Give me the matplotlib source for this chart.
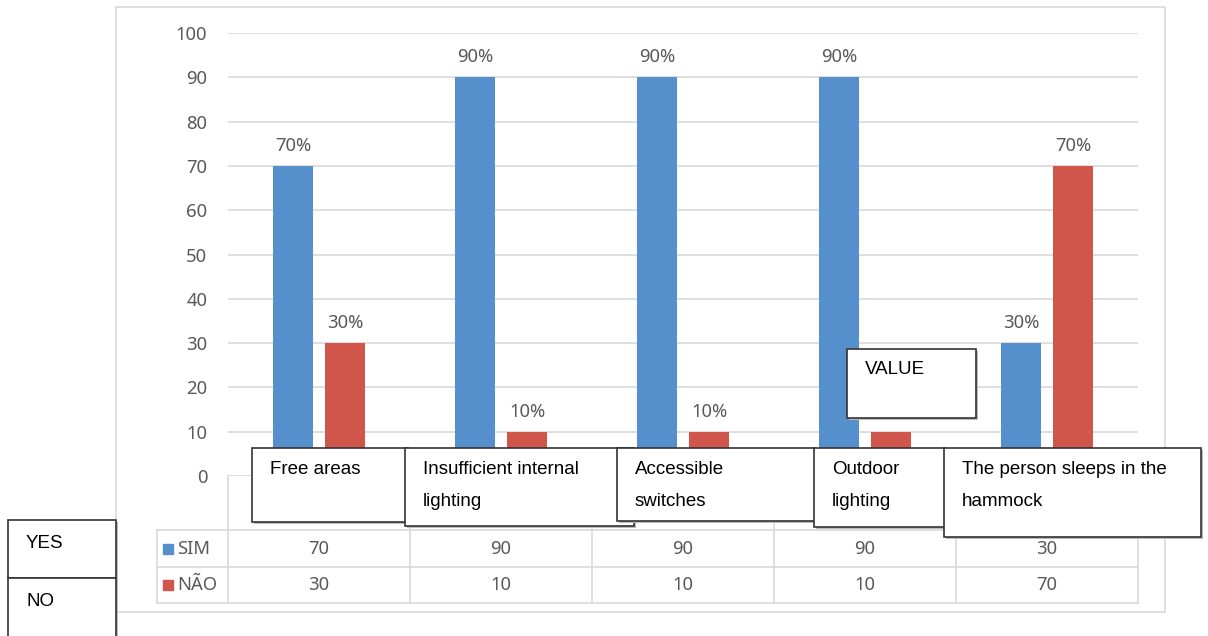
import matplotlib
matplotlib.use("Agg")
import matplotlib.pyplot as plt
from matplotlib.patches import Rectangle
from matplotlib.lines import Line2D
from matplotlib.transforms import blended_transform_factory
import numpy as np

# ---- data ----
box_labels = ["Free areas", "Insufficient internal\nlighting", "Accessible\nswitches",
              "Outdoor\nlighting", "The person sleeps in the\nhammock"]
series_names = ["SIM", "NÃO"]
sim = [70, 90, 90, 90, 30]
nao = [30, 10, 10, 10, 70]
yticks = [0, 10, 20, 30, 40, 50, 60, 70, 80, 90, 100]
side_labels = ["YES", "NO"]
extra_label = "VALUE"

W, H = 1208, 636
BLUE = "#5590CC"
RED = "#D0564B"
GRID = "#D9D9D9"
TXT = "#595959"
F = "Noto Sans"
AR = "Liberation Sans"
FS = 13.3

fig = plt.figure(figsize=(W / 100, H / 100), dpi=100)


def fx(px):
    return px / W


def fy(py):
    return 1 - py / H


# outer chart frame
fig.patches.append(Rectangle((fx(116), fy(612)), fx(1165) - fx(116), fy(7) - fy(612),
                             transform=fig.transFigure, fill=False, edgecolor=GRID, lw=1.2))

ax = fig.add_axes([fx(228), fy(476), fx(1138) - fx(228), fy(33) - fy(476)])
x = np.arange(len(sim))
bw = 0.22
off = 0.143
b1 = ax.bar(x - off, sim, bw, color=BLUE, zorder=3)
b2 = ax.bar(x + off, nao, bw, color=RED, zorder=3)
for bars, vals in ((b1, sim), (b2, nao)):
    for r, v in zip(bars, vals):
        ax.annotate(f"{v}%", (r.get_x() + r.get_width() / 2, v), xytext=(0, 8),
                    textcoords="offset points", ha="center", va="bottom",
                    color=TXT, fontsize=FS, family=F)

ax.set_xlim(-0.5, len(sim) - 0.5)
ax.set_ylim(0, 100)
ax.set_yticks(yticks)
ax.set_yticklabels([str(t) for t in yticks], color=TXT, fontsize=FS, family=F)
ax.tick_params(axis="y", length=0, pad=15)
ax.set_xticks([])
ax.yaxis.grid(True, color=GRID, lw=1.2, zorder=0)
for s in ax.spines.values():
    s.set_visible(False)

# ---- data table ----
bt = blended_transform_factory(ax.transData, fig.transFigure)
row_y = [530, 567, 603]
lx = 157
for yy in row_y:
    fig.lines.append(Line2D([fx(lx), fx(1138)], [fy(yy), fy(yy)], transform=fig.transFigure,
                            color=GRID, lw=1.2))
fig.lines.append(Line2D([fx(lx), fx(lx)], [fy(530), fy(603)], transform=fig.transFigure,
                        color=GRID, lw=1.2))
for b in np.arange(len(sim) + 1) - 0.5:
    fig.lines.append(Line2D([b, b], [fy(476), fy(603)], transform=bt, color=GRID, lw=1.2))

rows = [sim, nao]
colors = [BLUE, RED]
for ri, (name, vals, c) in enumerate(zip(series_names, rows, colors)):
    yc = (row_y[ri] + row_y[ri + 1]) / 2
    fig.patches.append(Rectangle((fx(163), fy(yc + 5)), fx(173) - fx(163), fy(yc - 5) - fy(yc + 5),
                                 transform=fig.transFigure, color=c))
    fig.text(fx(177), fy(yc), name, ha="left", va="center", color=TXT, fontsize=FS, family=F)
    for i, v in enumerate(vals):
        fig.text(i, fy(yc), str(v), transform=bt, ha="center", va="center",
                 color=TXT, fontsize=FS, family=F)


# ---- overlay boxes ----
def box(x0, y0, x1, y1, text, z, dy=21):
    fig.patches.append(Rectangle((fx(x0 + 2), fy(y1 + 2)), fx(x1) - fx(x0), fy(y0) - fy(y1),
                                 transform=fig.transFigure, facecolor="#BBBBBB",
                                 edgecolor="none", zorder=z))
    fig.patches.append(Rectangle((fx(x0), fy(y1)), fx(x1) - fx(x0), fy(y0) - fy(y1),
                                 transform=fig.transFigure, facecolor="white",
                                 edgecolor="#333333", lw=1.2, zorder=z + 0.1))
    lines = text.split("\n")
    for k, ln in enumerate(lines):
        fig.text(fx(x0 + 18), fy(y0 + dy + 33 * k), ln, ha="left", va="center",
                 fontsize=13.5, family=AR, color="black", zorder=z + 0.2)


box_geom = [(252, 448, 408, 522), (405, 448, 634, 526), (617, 448, 815, 521),
            (814, 448, 945, 527), (944, 448, 1201, 537)]
for k, (g, t) in enumerate(zip(box_geom, box_labels)):
    box(*g, t, 10 + k)
box(847, 349, 976, 418, extra_label, 20)
box(8, 520, 116, 578, side_labels[0], 21, dy=24)
box(8, 578, 116, 640, side_labels[1], 22, dy=23)

fig.savefig("out.png", dpi=100)
